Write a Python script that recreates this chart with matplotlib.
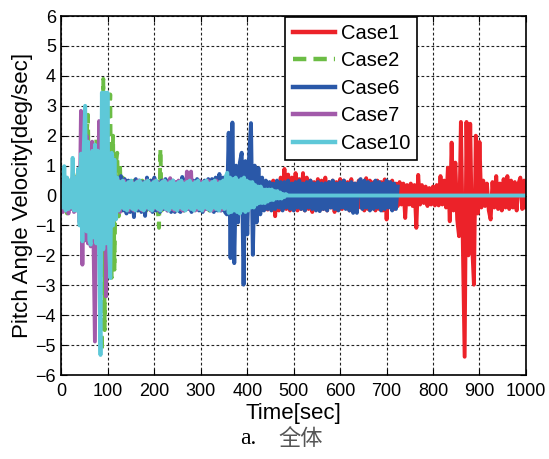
import numpy as np
import matplotlib
matplotlib.use("Agg")
import matplotlib.pyplot as plt

# Sample interval of each case (sec)
step_case1 = 4
step_case2 = 3
step_case6 = 4
step_case7 = 3
step_case10 = 3
end_time = 1000

# Pitch angle velocity [deg/sec], one value per sample
case1 = [
    0.2, -0.25, 0.3, -0.2, 0.15, -0.3, 0.25, -0.2, 0.3, -0.25,
    0.2, -0.3, 0.25, -0.15, 0.3, -0.25, 0.2, -0.3, 0.25, -0.2,
    0.3, -0.25, 0.2, -0.3, 0.25, -0.2, 0.3, -0.25, 0.2, -0.3,
    0.25, -0.2, 0.3, -0.25, 0.2, -0.3, 0.25, -0.2, 0.3, -0.25,
    0.2, -0.3, 0.25, -0.2, 0.3, -0.25, 0.2, -0.3, 0.25, -0.2,
    0.3, -0.25, 0.2, -0.3, 0.25, -0.2, 0.3, -0.25, 0.2, -0.3,
    0.25, -0.2, 0.3, -0.25, 0.2, -0.3, 0.25, -0.2, 0.3, -0.25,
    0.2, -0.3, 0.25, -0.2, 0.3, -0.25, 0.2, -0.3, 0.25, -0.2,
    0.3, -0.25, 0.2, -0.3, 0.25, -0.2, 0.3, -0.25, 0.2, -0.3,
    0.25, -0.2, 0.3, -0.25, 0.2, -0.3, 0.25, -0.2, 0.3, -0.25,
    0.2, -0.3, 0.25, -0.2, 0.3, -0.35, 0.3, -0.3, 0.35, -0.4,
    0.4, -0.47, 0.35, -0.45, 0.5, -0.69, 0.45, -0.5, 0.6, -0.4,
    0.89, -0.45, 0.7, -0.5, 0.6, -0.4, 0.75, -0.5, 0.55, -0.45,
    0.75, -0.5, 0.6, -0.45, 0.5, -0.55, 0.45, -0.4, 0.55, -0.5,
    0.5, -0.45, 0.6, -0.5, 0.45, -0.4, 0.5, -0.55, 0.45, -0.4,
    0.55, -0.45, 0.5, -0.4, 0.45, -0.5, 0.55, -0.45, 0.4, -0.5,
    0.5, -0.4, 0.45, -0.5, 0.58, -0.45, 0.5, -0.4, 0.45, -0.5,
    0.5, -0.45, 0.45, -0.5, 0.54, -0.8, 0.45, -0.4, 0.5, -0.45,
    0.4, -0.35, 0.45, -0.3, 0.4, -0.75, 0.35, -0.3, 0.4, -0.35,
    0.35, -1.08, 0.69, -0.3, 0.35, -0.25, 0.3, -0.35, 0.25, -0.3,
    0.3, -0.33, 0.35, -0.33, 0.65, -0.3, 0.5, -0.4, 0.93, -0.86,
    1.77, -0.5, 1.1, -0.8, -1.36, 2.46, -1.5, -5.39, 2.46, -2.0,
    2.4, -1.6, -2.98, 2.0, -0.6, 1.79, -0.4, 0.5, -0.35, 0.4,
    -0.5, -0.8, 0.45, -0.4, 0.65, -0.45, 0.4, -0.5, 0.55, -0.4,
    0.65, -0.45, 0.5, -0.4, 0.45, -0.5, 0.4, 0.6, -0.45, 0.5,
    -0.4,
]

case2 = [
    0.3, -0.4, 0.4, -0.35, -0.6, 0.5, -0.45, 0.5, -0.4, 0.45,
    -0.4, 0.6, 0.8, -0.5, 1.2, -0.8, 1.5, -1.0, 2.0, 2.7,
    -1.2, 1.8, -1.4, 1.6, -1.5, 1.9, -1.6, 1.7, -2.0, -5.2,
    3.9, -4.5, 2.5, -2.0, 2.2, 3.38, -2.75, 2.0, -2.48, 1.0,
    1.43, -0.7, 1.0, -0.5, 0.6, -0.4, 0.5, -0.45, 0.4, -0.5,
    0.45, -0.4, 0.5, -0.45, 0.4, -0.5, 0.45, -0.4, 0.5, -0.45,
    0.4, -0.5, 0.45, -0.4, 0.5, -0.45, 0.4, -0.5, 0.45, -0.4,
    -1.08, 1.55, -0.5, 0.45, -0.4, 0.5, -0.47, 0.4, -0.45, 0.5,
    -0.4, 0.45, -0.5, 0.4, -0.45, 0.5, -0.4, 0.45, -0.5, 0.4,
    -0.45, 0.5, -0.4, 0.45, -0.5, 0.4, -0.45, 0.5, -0.4, 0.45,
    -0.5, 0.4, -0.45, 0.5, -0.4, 0.45, -0.5, 0.4, -0.45, 0.5,
    -0.47, 0.3, -0.3, 0.2,
]

case6 = [
    0.3, -0.3, 0.35, -0.25, 0.3, -0.35, 0.25, -0.3, 0.35, -0.3,
    0.3, -0.35, 0.25, -0.3, 0.35, -0.25, 0.3, -0.35, 0.3, -0.25,
    0.35, -0.3, 0.3, -0.35, 0.25, -0.3, 0.35, -0.3, 0.3, -0.35,
    0.6, -0.45, 0.65, -0.5, 0.55, -0.6, 0.5, -0.55, 0.45, -0.72,
    0.55, -0.5, 0.5, -0.55, 0.45, -0.68, 0.6, -0.45, 0.5, -0.55,
    0.6, -0.5, 0.45, -0.55, 0.5, -0.45, 0.55, -0.5, 0.45, -0.55,
    0.5, -0.55, 0.45, -0.5, -0.55, 0.62, -0.5, 0.55, -0.45, 0.5,
    -0.55, 0.5, -0.45, 0.55, -0.5, 0.45, -0.55, 0.5, -0.45, 0.55,
    -0.5, 0.55, -0.55, 0.6, -0.5, 0.72, -0.5, 0.6, -0.55, -0.63,
    2.1, -2.09, 2.44, -2.26, 1.0, -0.9, 1.1, 1.43, -2.98, 1.15,
    -1.3, 1.3, 2.42, -1.98, 1.0, -0.9, 0.92, -0.63, 0.6, -0.5,
    0.5, -0.45, 0.45, -0.5, 0.4, -0.45, 0.5, -0.4, 0.45, -0.5,
    0.45, -0.4, 0.5, -0.45, 0.4, -0.5, 0.45, -0.4, 0.5, -0.45,
    0.4, -0.5, 0.45, -0.4, 0.5, -0.45, 0.4, -0.5, 0.45, -0.52,
    0.4, -0.45, 0.41, -0.5, 0.45, -0.4, 0.5, -0.45, 0.4, -0.5,
    0.45, -0.4, 0.5, -0.45, 0.4, -0.5, 0.45, -0.58, 0.4, -0.58,
    0.45, 0.55, -0.45, 0.5, -0.4, 0.45, -0.5, 0.4, -0.45, 0.5,
    -0.4, 0.45, -0.5, 0.4, -0.45, 0.5, -0.4, 0.45, -0.5, 0.4,
    -0.45, 0.3,
]

case7 = [
    0.5, -0.55, 0.6, -0.5, 0.55, -0.6, 0.5, -0.45, 0.6, -0.55,
    0.6, -0.5, 0.8, -0.9, 2.83, -2.31, 1.8, -1.5, 2.0, -1.6,
    1.5, -1.7, 1.8, -1.6, -4.88, 1.5, -1.4, 2.49, -1.8, 1.6,
    -1.5, 1.4, -3.37, 1.2, -1.0, 0.9, -0.8, 0.7, -0.6, 0.6,
    -0.5, 0.5, -0.55, 0.45, -0.4, 0.5, -0.45, 0.4, -0.5, 0.45,
    -0.4, 0.45, -0.5, 0.4, -0.45, 0.5, -0.4, 0.45, -0.5, 0.4,
    -0.45, 0.5, -0.4, 0.45, -0.5, 0.4, -0.45, 0.5, -0.4, 0.45,
    -0.5, 0.4, -0.45, 0.5, -0.4, 0.45, -0.5, 0.4, 0.58, -0.45,
    0.4, -0.5, 0.45, -0.4, 0.5, -0.45, 0.4, -0.5, 0.45, -0.4,
    0.8, -0.45, 0.5, 0.8, -0.4, 0.45, -0.5, 0.4, -0.45, 0.5,
    -0.4, 0.45, -0.5, 0.4, -0.45, 0.5, -0.4, 0.45, -0.5, 0.4,
    -0.45, 0.5, -0.4, 0.45, -0.5, 0.4, -0.45, 0.5, -0.4, 0.45,
    -0.5, 0.4, -0.45, 0.35, -0.4, 0.35, -0.3, 0.35, -0.3, 0.3,
    -0.3, 0.25, -0.3, 0.25, -0.2, 0.25, -0.2, 0.2, -0.25, 0.2,
    -0.2, 0.15, -0.2, 0.15, -0.15, 0.1, -0.15, 0.1, -0.1, 0.1,
    -0.1, 0.05, -0.05, 0.05, 0.0, 0.0, 0.0, 0.0, 0.0, 0.0,
]

case10 = [
    0.3, -0.4, 0.98, -0.5, 0.6, -0.45, 0.5, -0.4, 1.26, -0.5,
    0.6, -0.5, 0.9, -1.0, 1.4, -1.53, 1.6, 3.0, -1.2, 1.8,
    -1.5, -1.64, 1.49, -1.4, 1.7, -1.6, 1.5, -1.7, -5.33, 3.44,
    -1.8, 3.44, -1.6, 3.44, -1.5, -2.76, 1.43, -1.0, 1.2, -0.8,
    0.6, -0.5, 0.45, -0.4, 0.5, -0.45, 0.4, -0.5, 0.45, -0.4,
    0.5, -0.45, 0.4, -0.5, 0.45, -0.4, 0.5, -0.45, 0.4, -0.5,
    0.45, -0.4, 0.5, -0.45, 0.4, -0.5, 0.45, -0.4, 0.5, -0.45,
    0.4, -0.5, 0.45, -0.4, 0.5, -0.45, 0.4, -0.5, 0.45, -0.4,
    0.5, -0.45, 0.4, -0.5, 0.45, -0.4, 0.5, -0.45, 0.4, -0.5,
    0.45, -0.4, 0.5, -0.45, 0.4, -0.5, 0.45, -0.4, 0.5, -0.45,
    0.4, -0.5, 0.45, -0.4, 0.5, -0.45, 0.4, -0.5, 0.45, -0.4,
    0.5, -0.45, 0.4, -0.5, 0.45, -0.4, 0.5, -0.45, 0.65, 0.76,
    -0.58, 0.6, -0.55, 0.55, -0.5, 0.6, -0.55, 0.5, -0.6, 0.55,
    -0.5, 0.6, -0.55, 0.5, -0.5, 0.45, -0.4, 0.45, -0.4, 0.35,
    -0.3, 0.3, -0.25, 0.3, -0.25, 0.2, -0.25, 0.2, -0.2, 0.2,
    -0.15, 0.2, -0.15, 0.15, -0.1, 0.15, -0.1, 0.1, -0.1, 0.05,
    -0.05, 0.05, 0.0, 0.0,
]
# Case10 stays at rest until the end of the run
case10_tail = 0.0

labels = ["Case1", "Case2", "Case6", "Case7", "Case10"]
colors = ["#EC2229", "#6CBD45", "#2A58A8", "#A25AAA", "#5EC8D8"]

x_ticks = list(range(0, 1001, 100))
y_ticks = list(range(-6, 7))


def times(values, step):
    return np.arange(len(values)) * step


t10 = np.append(times(case10, step_case10), end_time)
v10 = np.append(case10, case10_tail)

series = [
    (times(case1, step_case1), case1, "-"),
    (times(case2, step_case2), case2, (0, (3, 1.6))),
    (times(case6, step_case6), case6, "-"),
    (times(case7, step_case7), case7, "-"),
    (t10, v10, "-"),
]

plt.rcParams["font.family"] = ["Liberation Sans", "DejaVu Sans"]

fig = plt.figure(figsize=(5.49, 4.59), dpi=100)
ax = fig.add_axes([0.112, 0.183, 0.846, 0.782])

for (t, v, ls), lab, col in zip(series, labels, colors):
    ax.plot(t, v, color=col, lw=2.8, linestyle=ls, label=lab)

ax.set_xlim(0, 1000)
ax.set_ylim(-6, 6)
ax.set_xticks(x_ticks)
ax.set_yticks(y_ticks)
ax.grid(True, color="#222222", linestyle=(0, (2.5, 2)), lw=0.8)
ax.set_axisbelow(True)
ax.tick_params(direction="in", length=4, width=0.8, labelsize=13,
               top=True, right=True)
ax.tick_params(axis="x", pad=6)
ax.tick_params(axis="y", pad=4)
for sp in ax.spines.values():
    sp.set_linewidth(1.2)

ax.set_xlabel("Time[sec]", fontsize=16, labelpad=2)
ax.set_ylabel("Pitch Angle Velocity[deg/sec]", fontsize=16, labelpad=2)

leg = ax.legend(loc="upper right", bbox_to_anchor=(0.766, 0.998),
                fontsize=14.5, frameon=True, fancybox=False, framealpha=1,
                edgecolor="black", borderaxespad=0, handlelength=2.1,
                handletextpad=0.3, labelspacing=0.42, borderpad=0.35)
leg.get_frame().set_linewidth(1.2)
for h in leg.get_lines():
    h.set_linewidth(3.2)

# caption under the figure
fig.text(0.452, 0.045, "a.", fontsize=17, ha="center", va="center",
         family=["Liberation Serif", "Noto Sans CJK SC"])
fig.text(0.548, 0.045, "全体", fontsize=16, ha="center", va="center",
         color="#555555", family=["Noto Sans CJK SC", "DejaVu Sans"])

fig.savefig("out.png", dpi=100)
